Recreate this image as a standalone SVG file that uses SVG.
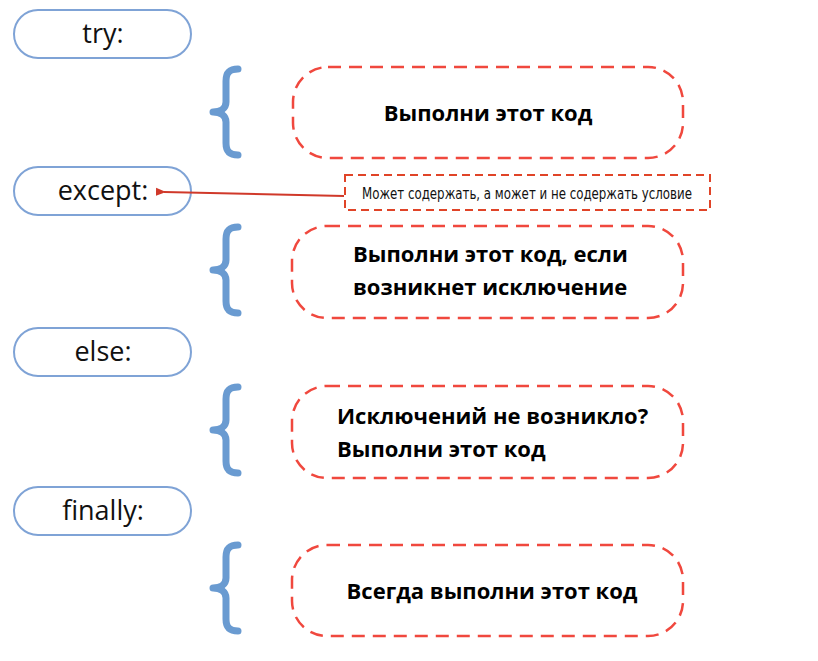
<svg xmlns="http://www.w3.org/2000/svg" width="818" height="661" viewBox="0 0 818 661">
<style>
.pill{fill:#fff;stroke:#7fa3d6;stroke-width:2}
.kw{font-family:"Open Sans","Noto Sans",sans-serif;font-size:27px;fill:#111;text-anchor:middle}
.brace{fill:none;stroke:#6a9bd1;stroke-width:7;stroke-linecap:round;stroke-linejoin:round}
.box{fill:#fff;stroke:#f0483e;stroke-width:2.5;stroke-dasharray:13 8}
.bt{font-family:"Open Sans","Noto Sans",sans-serif;font-size:22px;font-weight:bold;fill:#000}
.note{fill:#fff;stroke:#e04428;stroke-width:2;stroke-dasharray:8 5}
.nt{font-family:"Liberation Sans Narrow","DejaVu Sans Condensed","Liberation Sans",sans-serif;font-size:16px;fill:#111}
</style>
<defs>
<path id="br" d="M 36 2 C 27 2, 24 6, 24 14 L 24 35 C 24 41, 19 45, 11 45 C 19 45, 24 49, 24 55 L 24 76 C 24 84, 27 88, 36 88"/>
<marker id="ah" markerWidth="10" markerHeight="10" refX="2" refY="5" orient="auto" markerUnits="userSpaceOnUse"><path d="M10 1 L0 5 L10 9 Z" fill="#d0392a"/></marker>
</defs>
<g id="try"><rect class="pill" x="14" y="10" width="177" height="48" rx="24"/><text class="kw" x="103" y="43">try:</text></g>
<g id="except"><rect class="pill" x="14" y="167" width="177" height="48" rx="24"/><text class="kw" x="103" y="200">except:</text></g>
<g id="else"><rect class="pill" x="14" y="328" width="177" height="48" rx="24"/><text class="kw" x="103" y="361">else:</text></g>
<g id="finally"><rect class="pill" x="14" y="487" width="177" height="48" rx="24"/><text class="kw" x="103" y="520">finally:</text></g>
<g id="brace1"><use href="#br" class="brace" transform="translate(202,67)"/></g>
<g id="brace2"><use href="#br" class="brace" transform="translate(202,225)"/></g>
<g id="brace3"><use href="#br" class="brace" transform="translate(202,385)"/></g>
<g id="brace4"><use href="#br" class="brace" transform="translate(202,543)"/></g>
<g id="box1"><rect class="box" x="293" y="67" width="390" height="91" rx="35"/><text class="bt" x="488" y="121" text-anchor="middle">Выполни этот код</text></g>
<g id="box2"><rect class="box" x="292" y="226" width="391" height="92" rx="35"/><text class="bt" x="353" y="262">Выполни этот код, если</text><text class="bt" x="353" y="295">возникнет исключение</text></g>
<g id="box3"><rect class="box" x="292" y="386" width="391" height="92" rx="35"/><text class="bt" x="337" y="424">Исключений не возникло?</text><text class="bt" x="337" y="457">Выполни этот код</text></g>
<g id="box4"><rect class="box" x="292" y="545" width="391" height="91" rx="35"/><text class="bt" x="492" y="599" text-anchor="middle">Всегда выполни этот код</text></g>
<g id="note"><rect class="note" x="345" y="175" width="365" height="35"/><text class="nt" x="362" y="199" textLength="330" lengthAdjust="spacingAndGlyphs">Может содержать, а может и не содержать условие</text></g>
<g id="connectors"><line x1="344" y1="196" x2="164" y2="192" stroke="#d0392a" stroke-width="2" marker-end="url(#ah)"/></g>
</svg>
